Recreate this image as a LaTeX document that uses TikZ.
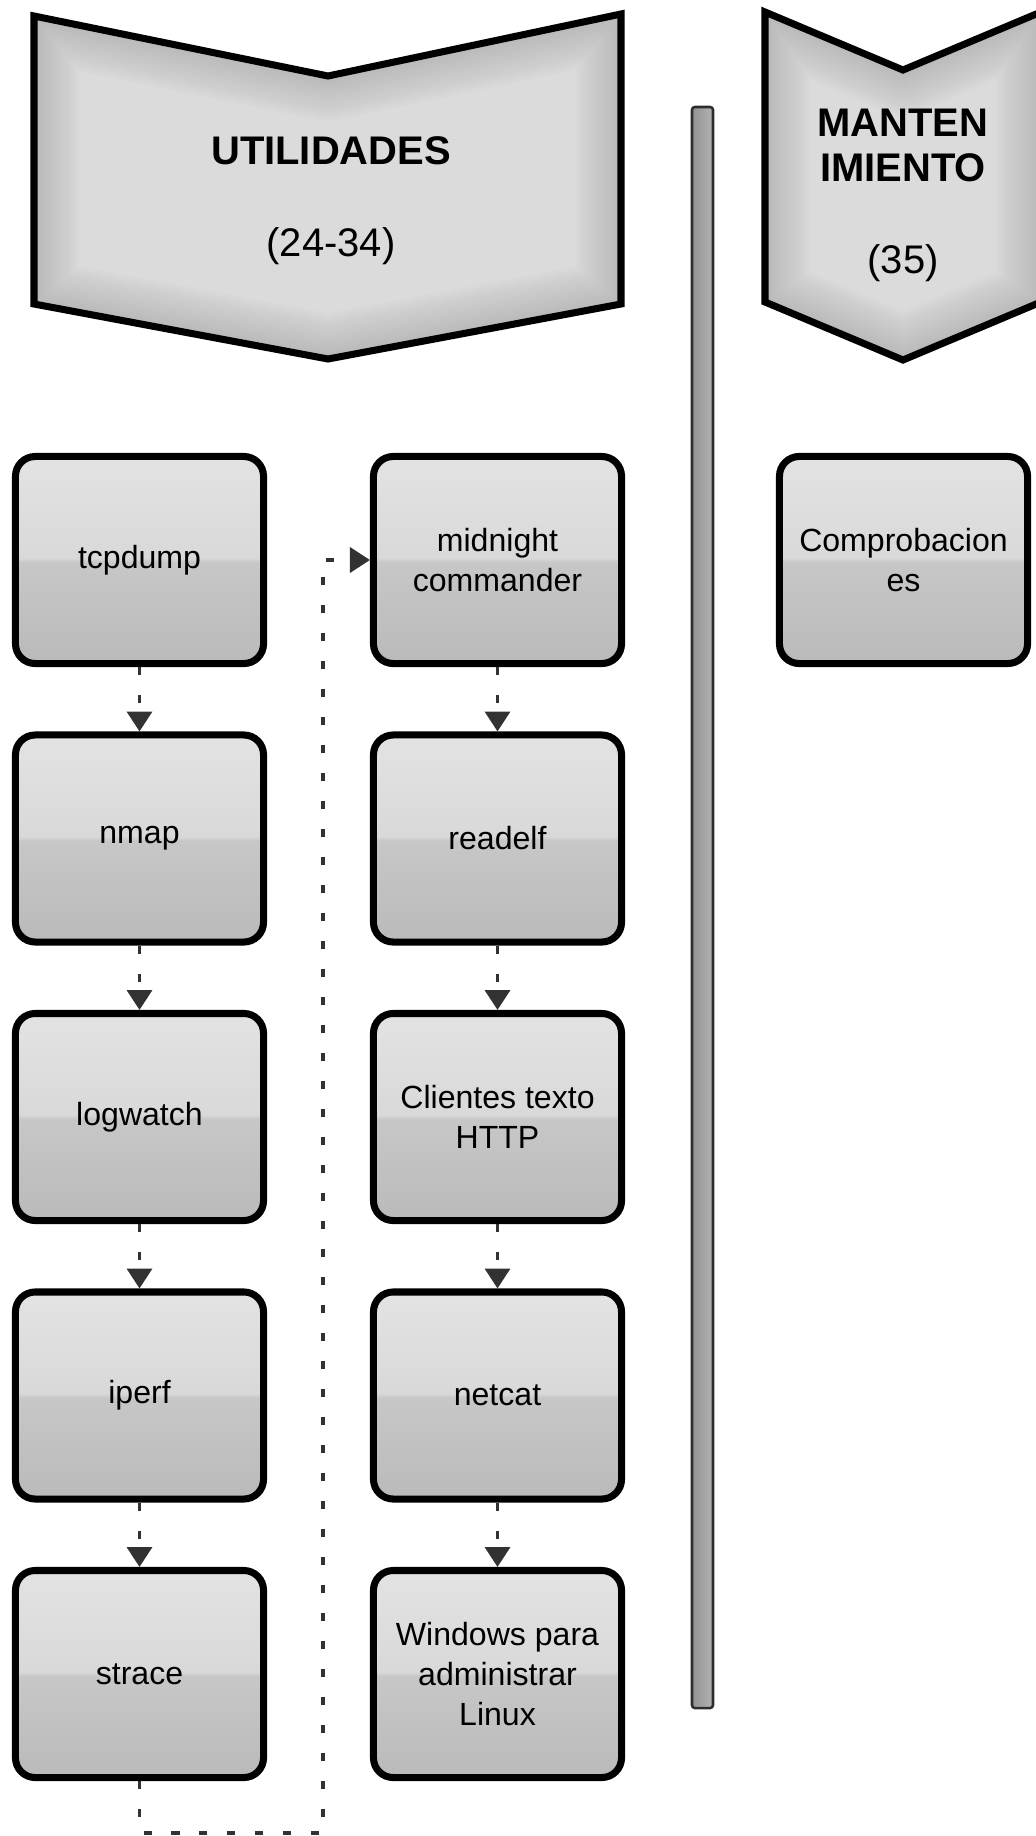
\documentclass[tikz,border=0pt]{standalone}
\usepackage{fontspec}
\setmainfont{Liberation Sans}
\usetikzlibrary{arrows.meta}
\definecolor{figK}{RGB}{50,50,50}
% glossy fill of the boxes: light upper half, darker lower half
\pgfdeclareverticalshading{gloss}{100bp}{color(0bp)=(gray!54); color(25bp)=(gray!54);
  color(49.5bp)=(gray!44); color(50.5bp)=(gray!30); color(75bp)=(gray!22); color(100bp)=(gray!22)}
\newcommand\utilShape{(34,16) -- (328,76) -- (621,14) -- (621,304) -- (328,359) -- (34,304) -- cycle}
\newcommand\mantShape{(765,12) -- (903,70) -- (1041,12) -- (1041,302) -- (903,360) -- (765,302) -- cycle}
\tikzset{
  toolbox/.style={draw=black, line width=5pt, rounded corners=14pt, shading=gloss,
    minimum width=6.2cm, minimum height=5.175cm, align=center, inner sep=2pt,
    font=\fontsize{22.8}{28.5}\selectfont},
  bannerline/.style={draw=black, line width=5pt},
  glow/.style={gray!80, line join=round},
  bannertext/.style={align=center, font=\fontsize{28.4}{32}\selectfont},
  bannertitle/.style={bannertext, font=\fontsize{28.4}{32}\selectfont\bfseries},
  flow/.style={figK, line width=2.5pt, dash pattern=on 5.7pt off 14.2pt,
    -{Triangle[width=17.8pt,length=14.2pt]}}
}
\begin{document}
\begin{tikzpicture}[x=0.025cm, y=-0.025cm]
\useasboundingbox (0,0) rectangle (1036,1836);
% ======== BANNERS ========
\begin{scope}
\clip (0,0) rectangle (1036,1836);
\foreach \shp in {\utilShape, \mantShape} {
  \begin{scope}
  \clip \shp;
  \fill[gray!28] \shp;
  % darker rim along the inside of the outline
  \foreach \w in {6,12,...,90}
    \draw[glow, opacity=0.035, line width=\w*0.711pt] \shp;
  \end{scope}
  \draw[bannerline] \shp;
}
\end{scope}
\node[bannertitle] (utilName) at (331,151) {UTILIDADES};
\node[bannertext] (utilRange) at (331,246) {(24-34)};
\node[bannertitle] (mantName) at (903,145) {MANTEN\\IMIENTO};
\node[bannertext] (mantRange) at (903,263) {(35)};
% separator bar
\draw[draw=gray!35!black, line width=1.8pt, rounded corners=2pt, left color=gray!85, right color=gray!60]
  (692,107) rectangle (713,1708);
% ======== LEFT COLUMN ========
\node[toolbox] (tcpdump)  at (139.5,560)  {tcpdump};
\node[toolbox] (nmap)     at (139.5,838.5) {nmap};
\node[toolbox] (logwatch) at (139.5,1117) {logwatch};
\node[toolbox] (iperf)    at (139.5,1395.5) {iperf};
\node[toolbox] (strace)   at (139.5,1674) {strace};
% ======== MIDDLE COLUMN ========
\node[toolbox] (mc)       at (497.5,560)  {midnight\\commander};
\node[toolbox] (readelf)  at (497.5,838.5) {readelf};
\node[toolbox] (clientes) at (497.5,1117) {Clientes texto\\HTTP};
\node[toolbox] (netcat)   at (497.5,1395.5) {netcat};
\node[toolbox] (windows)  at (497.5,1674) {Windows para\\administrar\\Linux};
% ======== RIGHT COLUMN ========
\node[toolbox] (comprob)  at (903.5,560)  {Comprobacion\\es};
% connectors
\foreach \a/\b in {tcpdump/nmap, nmap/logwatch, logwatch/iperf, iperf/strace,
  mc/readelf, readelf/clientes, clientes/netcat, netcat/windows}
  \draw[flow] (\a.south) -- (\b.north);
\coordinate (loopA) at (323,1833);
\draw[flow] (strace.south) |- (loopA) |- (mc.west);
\end{tikzpicture}
\end{document}
